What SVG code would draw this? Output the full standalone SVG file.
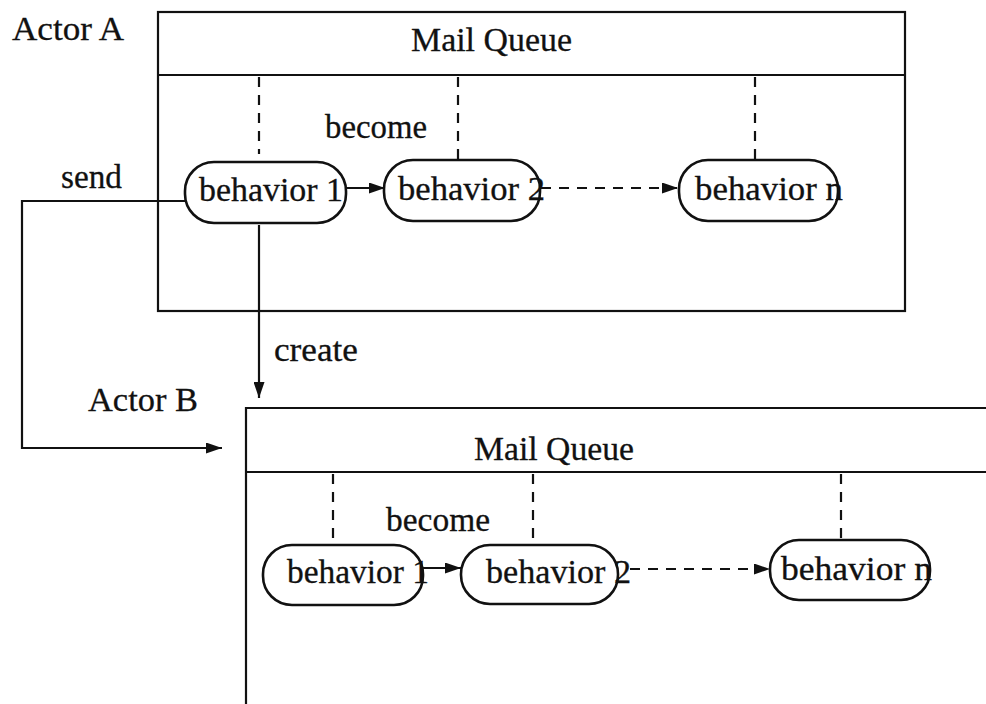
<svg xmlns="http://www.w3.org/2000/svg" width="986" height="704" viewBox="0 0 986 704">
  <style>
    text { font-family: "Liberation Serif", "Times New Roman", serif; font-size: 34px; fill: #111; stroke: #111; stroke-width: 0.3; }
    .frame { fill: none; stroke: #111; stroke-width: 2.2; }
    .beh { fill: #fff; stroke: #111; stroke-width: 2.6; }
    .line { fill: none; stroke: #111; stroke-width: 2.2; }
    .dash { fill: none; stroke: #111; stroke-width: 2.2; stroke-dasharray: 10 8; }
  </style>
  <defs>
    <marker id="head" markerUnits="userSpaceOnUse" markerWidth="16" markerHeight="11" refX="16" refY="5.5" orient="auto">
      <path d="M0,0 L16,5.5 L0,11 z" fill="#111"/>
    </marker>
  </defs>
  <rect width="986" height="704" fill="#fff"/>

  <!-- Actor A -->
  <g id="actorA">
    <text x="12" y="40" textLength="112" lengthAdjust="spacingAndGlyphs">Actor A</text>
    <rect class="frame" x="158" y="12" width="747" height="299"/>
    <line class="frame" x1="158" y1="75" x2="905" y2="75"/>
    <text x="411" y="51" textLength="161" lengthAdjust="spacingAndGlyphs">Mail Queue</text>
  </g>

  <!-- Actor B -->
  <g id="actorB">
    <text x="88" y="411" textLength="110" lengthAdjust="spacingAndGlyphs">Actor B</text>
    <path class="frame" d="M990,408 H246 V706"/>
    <line class="frame" x1="246" y1="472" x2="990" y2="472"/>
    <text x="474" y="460" textLength="160" lengthAdjust="spacingAndGlyphs">Mail Queue</text>
  </g>

  <!-- Behaviors of actor A -->
  <g id="a-behavior1">
    <rect class="beh" x="185" y="162" width="161" height="61" rx="29" ry="29"/>
    <text x="199" y="201" textLength="144" lengthAdjust="spacingAndGlyphs">behavior 1</text>
  </g>
  <g id="a-behavior2">
    <rect class="beh" x="384" y="160" width="156" height="61" rx="29" ry="29"/>
    <text x="398" y="200" textLength="147" lengthAdjust="spacingAndGlyphs">behavior 2</text>
  </g>
  <g id="a-behaviorn">
    <rect class="beh" x="679" y="160" width="159" height="61" rx="29" ry="29"/>
    <text x="695" y="200" textLength="148" lengthAdjust="spacingAndGlyphs">behavior n</text>
  </g>

  <!-- Behaviors of actor B -->
  <g id="b-behavior1">
    <rect class="beh" x="263" y="545" width="160" height="60" rx="29" ry="29"/>
    <text x="287" y="583" textLength="142" lengthAdjust="spacingAndGlyphs">behavior 1</text>
  </g>
  <g id="b-behavior2">
    <rect class="beh" x="461" y="545" width="157" height="59" rx="29" ry="29"/>
    <text x="486" y="583" textLength="145" lengthAdjust="spacingAndGlyphs">behavior 2</text>
  </g>
  <g id="b-behaviorn">
    <rect class="beh" x="770" y="540" width="160" height="60" rx="29" ry="29"/>
    <text x="781" y="580" textLength="151" lengthAdjust="spacingAndGlyphs">behavior n</text>
  </g>

  <!-- Connectors -->
  <g id="connectors">
    <!-- mail queue links, actor A -->
    <line class="dash" x1="259" y1="77" x2="259" y2="154"/>
    <line class="dash" x1="458" y1="77" x2="458" y2="160"/>
    <line class="dash" x1="755" y1="77" x2="755" y2="160"/>
    <!-- mail queue links, actor B -->
    <line class="dash" x1="333" y1="474" x2="333" y2="545"/>
    <line class="dash" x1="533" y1="474" x2="533" y2="545"/>
    <line class="dash" x1="841" y1="474" x2="841" y2="540"/>

    <!-- become transitions -->
    <line class="line" x1="346" y1="188" x2="385" y2="188" marker-end="url(#head)"/>
    <line class="dash" x1="541" y1="188" x2="678" y2="188" marker-end="url(#head)"/>
    <line class="line" x1="423" y1="568" x2="461" y2="568" marker-end="url(#head)"/>
    <line class="dash" x1="630" y1="569" x2="770" y2="569" marker-end="url(#head)"/>
    <text x="325" y="138" textLength="102" lengthAdjust="spacingAndGlyphs">become</text>
    <text x="386" y="531" textLength="104" lengthAdjust="spacingAndGlyphs">become</text>

    <!-- send -->
    <path class="line" d="M185,201 H22 V448 H222" marker-end="url(#head)"/>
    <text x="61" y="188" textLength="61" lengthAdjust="spacingAndGlyphs">send</text>

    <!-- create -->
    <path class="line" d="M259,225 V398" marker-end="url(#head)"/>
    <text x="274" y="361" textLength="84" lengthAdjust="spacingAndGlyphs">create</text>
  </g>
</svg>
